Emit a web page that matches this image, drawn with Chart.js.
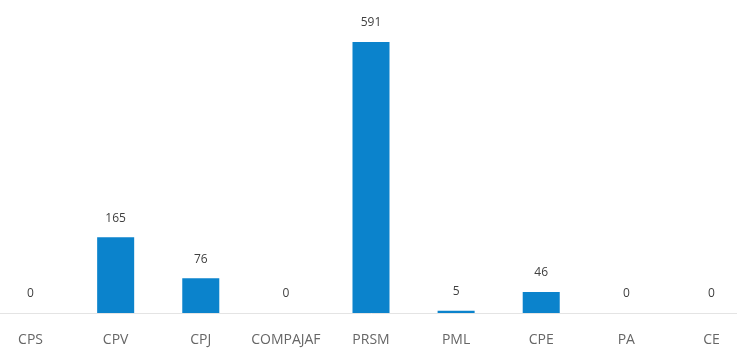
<!DOCTYPE html>
<html>
<head>
<meta charset="utf-8">
<script src="https://cdn.jsdelivr.net/npm/chart.js@4"></script>
<style>
  html, body { margin: 0; padding: 0; background: #fff; overflow: hidden; }
  #wrap { position: absolute; left: -12px; top: 0; width: 766px; height: 350px; }
</style>
</head>
<body>
<div id="wrap"><canvas id="chart"></canvas></div>
<script>
const categories = ["CPS", "CPV", "CPJ", "COMPAJAF", "PRSM", "PML", "CPE", "PA", "CE"];
const counts = [0, 165, 76, 0, 591, 5, 46, 0, 0];

// draws the count above each bar
const valueLabels = {
  id: "valueLabels",
  afterDatasetsDraw(chart) {
    const ctx = chart.ctx;
    const meta = chart.getDatasetMeta(0);
    ctx.save();
    ctx.font = "12px 'Open Sans', sans-serif";
    ctx.fillStyle = "#404040";
    ctx.textAlign = "center";
    ctx.textBaseline = "middle";
    meta.data.forEach((bar, i) => {
      ctx.fillText(String(counts[i]), bar.x, bar.y - 19);
    });
    ctx.restore();
  },
};

new Chart(document.getElementById("chart"), {
  type: "bar",
  data: {
    labels: categories,
    datasets: [{
      data: counts,
      backgroundColor: "#0b83cc",
      borderWidth: 0,
      barPercentage: 0.435,
      categoryPercentage: 1,
    }],
  },
  options: {
    responsive: true,
    maintainAspectRatio: false,
    animation: false,
    layout: { padding: { top: 42, left: 0, right: 0, bottom: 0 } },
    plugins: { legend: { display: false }, tooltip: { enabled: false } },
    scales: {
      x: {
        grid: { display: false },
        border: { display: true, color: "#e4e4e4", width: 1 },
        ticks: {
          color: "#666666",
          font: { family: "'Open Sans', sans-serif", size: 14 },
          padding: 11,
          maxRotation: 0,
          autoSkip: false,
        },
        afterFit(scale) { scale.height = 37; },
      },
      y: {
        display: false,
        min: 0,
        max: 591,
      },
    },
  },
  plugins: [valueLabels],
});
</script>
</body>
</html>
